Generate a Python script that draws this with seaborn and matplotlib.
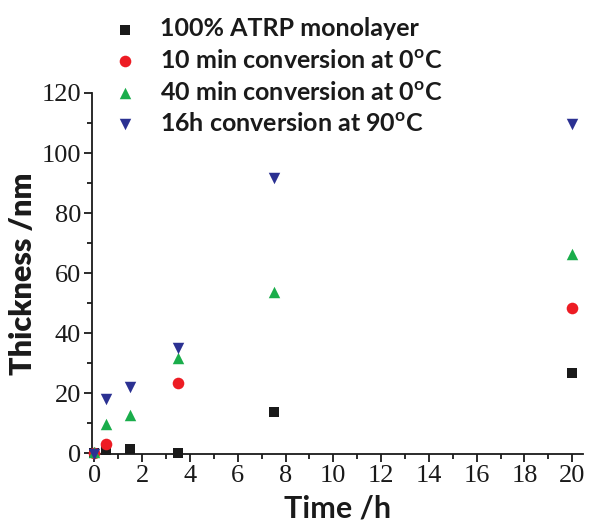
import matplotlib
matplotlib.use("Agg")
import matplotlib.pyplot as plt
from matplotlib.ticker import MultipleLocator
import seaborn as sns

# Film thickness versus polymerisation time
time_atrp = [0, 0.5, 1.5, 3.5, 7.5, 20]
thick_atrp = [0, 1.0, 1.5, 0, 13.8, 26.7]

time_10min = [0, 0.5, 3.5, 20]
thick_10min = [0, 3.0, 23.2, 48.3]

time_40min = [0, 0.5, 1.5, 3.5, 7.5, 20]
thick_40min = [0.5, 9.6, 12.7, 31.6, 53.7, 66.3]

time_16h = [0, 0.5, 1.5, 3.5, 7.5, 20]
thick_16h = [-0.3, 17.9, 21.9, 34.9, 91.7, 109.7]

series_labels = [
    "100% ATRP monolayer",
    "10 min conversion at 0$^{\\mathregular{o}}$C",
    "40 min conversion at 0$^{\\mathregular{o}}$C",
    "16h conversion at 90$^{\\mathregular{o}}$C",
]

x_ticks = [0, 2, 4, 6, 8, 10, 12, 14, 16, 18, 20]
y_ticks = [0, 20, 40, 60, 80, 100, 120]

sns.set_theme(style="ticks")
plt.rcParams["font.family"] = ["Lato", "DejaVu Sans"]
plt.rcParams["mathtext.fontset"] = "custom"
plt.rcParams["mathtext.rm"] = "Lato:bold"

fig = plt.figure(figsize=(5.91, 5.29), dpi=100)
ax = fig.add_axes([0.1557, 0.1418, 0.8308, 0.6824])

styles = [
    (time_atrp, thick_atrp, "s", "#1a1a1a", 55),
    (time_10min, thick_10min, "o", "#ed1c24", 70),
    (time_40min, thick_40min, "^", "#1aad4b", 68),
    (time_16h, thick_16h, "v", "#2b3192", 68),
]
for (t, h, m, c, s), lab in zip(styles, series_labels):
    sns.scatterplot(x=t, y=h, marker=m, color=c, s=s, linewidth=0,
                    label=lab, ax=ax, legend=False, clip_on=False, zorder=3)

ax.set_xlim(-0.1, 20.45)
ax.set_ylim(-0.3, 120)
ax.set_xticks(x_ticks)
ax.set_yticks(y_ticks)
ax.xaxis.set_minor_locator(MultipleLocator(1))
ax.yaxis.set_minor_locator(MultipleLocator(10))

for side in ("top", "right"):
    ax.spines[side].set_visible(False)
for side in ("left", "bottom"):
    ax.spines[side].set_linewidth(1.3)
    ax.spines[side].set_color("#1a1a1a")

ax.tick_params(which="major", direction="out", length=6, width=1.3,
               color="#1a1a1a", labelsize=19, pad=2, labelcolor="#1a1a1a")
ax.tick_params(which="minor", direction="out", length=3.5, width=1.3,
               color="#1a1a1a")
for lbl in ax.get_xticklabels() + ax.get_yticklabels():
    lbl.set_family(["Liberation Serif", "DejaVu Serif"])

ax.set_xlabel("Time /h", fontsize=22, fontweight="bold", color="#1a1a1a",
              labelpad=5)
ax.set_ylabel("Thickness /nm", fontsize=22, fontweight="heavy",
              color="#1a1a1a", labelpad=3)

handles, labels = ax.get_legend_handles_labels()
leg = fig.legend(handles, labels, loc="upper left",
                 bbox_to_anchor=(0.16, 1.0), frameon=False,
                 prop={"family": ["Lato", "DejaVu Sans"], "weight": "bold",
                       "size": 18},
                 handletextpad=0.9, labelspacing=0.34, borderaxespad=0.3,
                 markerscale=1.0, handlelength=1.0)
for txt in leg.get_texts():
    txt.set_color("#1a1a1a")

fig.savefig("out.png", dpi=100, facecolor="white")
